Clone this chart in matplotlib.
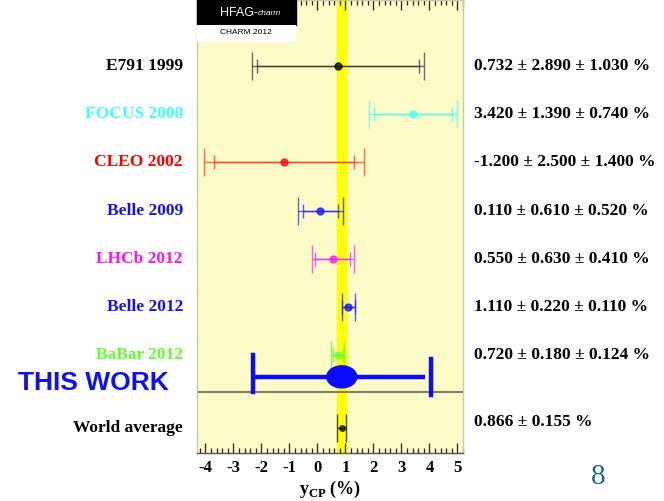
import numpy as np
import matplotlib
matplotlib.use("Agg")
from matplotlib import pyplot as plt
from matplotlib.patches import Rectangle, Ellipse

# measurements of y_CP (%)
labels = ["E791 1999", "FOCUS 2000", "CLEO 2002", "Belle 2009",
          "LHCb 2012", "Belle 2012", "BaBar 2012"]
values = [0.732, 3.420, -1.200, 0.110, 0.550, 1.110, 0.720]
stat = [2.890, 1.390, 2.500, 0.610, 0.630, 0.220, 0.180]
syst = [1.030, 0.740, 1.400, 0.520, 0.410, 0.110, 0.124]
label_colors = ["black", "#40ffff", "#ff0000", "#1010ff",
                "#ff10ff", "#1010ff", "#66ff33"]
bar_colors = ["#303030", "#40ffff", "#ff3010", "#2020ff",
              "#ff20ff", "#2020ff", "#55ff22"]

wa_val, wa_err = 0.866, 0.155

# hand-drawn "this work" result
tw_val, tw_err_lo, tw_line_hi, tw_err_hi = 0.87, 3.16, 2.99, 3.17

xticks = [-4, -3, -2, -1, 0, 1, 2, 3, 4, 5]

serif = "Liberation Serif"
plt.rcParams["mathtext.fontset"] = "custom"
plt.rcParams["mathtext.bf"] = "Liberation Serif:bold"
plt.rcParams["mathtext.rm"] = "Liberation Serif:bold"

fig = plt.figure(figsize=(6.64, 5.01), dpi=100)
fig.patch.set_facecolor("white")
W, H = 664.0, 501.0

ax = fig.add_axes([197 / W, 1 - 453 / H, 266 / W, 453 / H])
ax.set_facecolor("#fdfbc8")
ax.set_xlim(-4.3, 5.2)
ax.set_ylim(8.03, -1.37)

# world average band
ax.axvspan(wa_val - wa_err, wa_val + wa_err, color="#ffff00", zorder=1)

ypos = np.arange(len(labels))
for i in range(len(labels)):
    tot = np.hypot(stat[i], syst[i])
    ax.errorbar(values[i], ypos[i], xerr=tot, fmt="none", ecolor=bar_colors[i],
                elinewidth=1.0, capsize=10, capthick=1.0, alpha=0.7, zorder=3)
    ax.errorbar(values[i], ypos[i], xerr=stat[i], fmt="o", color=bar_colors[i],
                ecolor=bar_colors[i], mfc=label_colors[i], mec=label_colors[i],
                markersize=5, elinewidth=1.0, capsize=4.7, capthick=1.0,
                alpha=0.75, zorder=4)

# world average
y_wa = 7.51
ax.errorbar(wa_val, y_wa, xerr=wa_err, fmt="o", color="black", markersize=4,
            elinewidth=1.0, capsize=10, capthick=1.0, alpha=0.7, zorder=4)

# separator
ax.axhline(6.76, color="#807f60", lw=1.5, zorder=2)

# this work
y_tw = 6.45
ax.plot([tw_val - tw_err_lo, tw_val + tw_line_hi], [y_tw, y_tw],
        color="#0a0aff", lw=3.2, zorder=5, solid_capstyle="butt")
ax.plot([tw_val - tw_err_lo] * 2, [6.0, 6.76], color="#0a0aff", lw=3.2, zorder=5)
ax.plot([tw_val + tw_err_hi] * 2, [6.07, 6.82], color="#0a0aff", lw=3.2, zorder=5)
ax.add_patch(Ellipse((tw_val, y_tw), width=30 / 28.0, height=22 / 48.2,
                     color="#0a0aff", zorder=6))

# axes style
ax.set_yticks([])
ax.set_xticks(xticks)
ax.set_xticks(np.arange(-4.2, 5.21, 0.2), minor=True)
ax.tick_params(axis="x", which="both", direction="in", top=True, bottom=True,
               colors="#222222", width=0.9)
ax.tick_params(axis="x", which="major", length=7, pad=5)
ax.tick_params(axis="x", which="minor", length=3.5)
ax.set_xticklabels([str(t) for t in xticks], fontfamily=serif,
                   fontweight="bold", fontsize=12, color="black")
for s in ax.spines.values():
    s.set_color("#c8c8a8")
    s.set_linewidth(1.0)
ax.spines["bottom"].set_color("#555540")

ax.set_xlabel(r"$\mathbf{y}_{\mathbf{CP}}$ (%)", fontfamily=serif,
              fontweight="bold", fontsize=13, labelpad=2)

# left labels and right values
for i in range(len(labels)):
    y = 1 - (66 + 48.2 * i) / H
    fig.text(183 / W, y, labels[i], ha="right", va="center",
             fontfamily=serif, fontweight="bold", fontsize=12.5,
             color=label_colors[i])
    txt = "%.3f \u00b1 %.3f \u00b1 %.3f %%" % (values[i], stat[i], syst[i])
    fig.text(474 / W, y, txt, ha="left", va="center",
             fontfamily=serif, fontweight="bold", fontsize=12.5, color="black")

fig.text(183 / W, 1 - 428 / H, "World average", ha="right", va="center",
         fontfamily=serif, fontweight="bold", fontsize=12.5, color="black")
fig.text(474 / W, 1 - 422 / H, "%.3f \u00b1 %.3f %%" % (wa_val, wa_err),
         ha="left", va="center", fontfamily=serif, fontweight="bold",
         fontsize=12.5, color="black")

fig.text(18 / W, 1 - 383 / H, "THIS WORK", ha="left", va="center",
         fontfamily="Liberation Sans", fontweight="bold", fontsize=19,
         color="#1010f0")

# HFAG logo box
fig.add_artist(Rectangle((197 / W, 1 - 25 / H), 99 / W, 25 / H,
                         transform=fig.transFigure, color="black", zorder=10))
fig.add_artist(Rectangle((197 / W, 1 - 42 / H), 99 / W, 17 / H,
                         transform=fig.transFigure, facecolor="white",
                         edgecolor="none", zorder=10))
fig.text(258 / W, 1 - 13 / H, "HFAG-", ha="right", va="center",
         fontfamily="Liberation Sans", fontsize=9, color="white", zorder=11)
fig.text(258 / W, 1 - 13.5 / H, "charm", ha="left", va="center",
         fontfamily="Liberation Sans", style="italic", fontsize=6,
         color="white", zorder=11)
fig.text(246 / W, 1 - 33 / H, "CHARM 2012", ha="center", va="center",
         fontfamily="Liberation Sans", fontsize=6, color="black", zorder=11)

# slide number
fig.text(598 / W, 1 - 477 / H, "8", ha="center", va="center",
         fontfamily=serif, fontsize=21, color="#1b6a7e")

fig.savefig("out.png", dpi=100)
